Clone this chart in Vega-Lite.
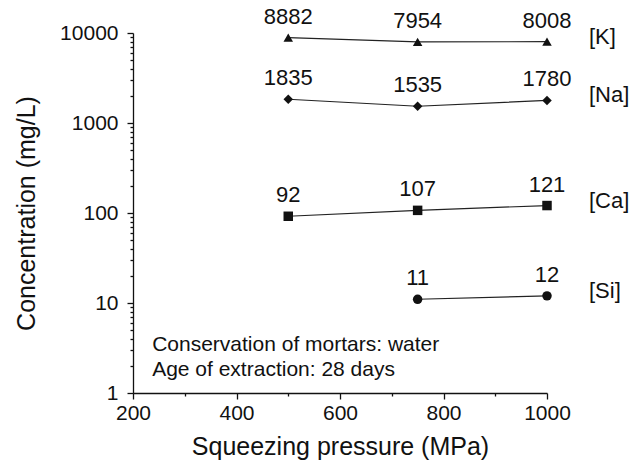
{
  "$schema": "https://vega.github.io/schema/vega-lite/v6.json",
  "width": 414,
  "height": 360,
  "autosize": {"type": "none"},
  "padding": {"left": 133, "top": 33, "right": 87, "bottom": 73},
  "background": "white",
  "config": {
    "font": "Liberation Sans",
    "view": {"stroke": null},
    "axis": {
      "grid": false,
      "domainColor": "#111",
      "tickColor": "#111",
      "labelColor": "#111",
      "titleColor": "#111",
      "domainWidth": 1.3,
      "tickWidth": 1.3,
      "labelFontSize": 21,
      "titleFontSize": 25,
      "titleFontWeight": "normal",
      "labelOverlap": false,
      "labelFlush": false
    }
  },
  "datasets": {
    "ions": [
      {"ion": "[K]", "pressure": 500, "conc": 8882},
      {"ion": "[K]", "pressure": 750, "conc": 7954},
      {"ion": "[K]", "pressure": 1000, "conc": 8008},
      {"ion": "[Na]", "pressure": 500, "conc": 1835},
      {"ion": "[Na]", "pressure": 750, "conc": 1535},
      {"ion": "[Na]", "pressure": 1000, "conc": 1780},
      {"ion": "[Ca]", "pressure": 500, "conc": 92},
      {"ion": "[Ca]", "pressure": 750, "conc": 107},
      {"ion": "[Ca]", "pressure": 1000, "conc": 121},
      {"ion": "[Si]", "pressure": 750, "conc": 11},
      {"ion": "[Si]", "pressure": 1000, "conc": 12}
    ],
    "note1": [{"note": "Conservation of mortars: water"}],
    "note2": [{"note": "Age of extraction: 28 days"}]
  },
  "layer": [
    {
      "data": {"name": "ions"},
      "mark": {"type": "line", "color": "#222", "strokeWidth": 1.2},
      "encoding": {
        "x": {
          "field": "pressure",
          "type": "quantitative",
          "scale": {"domain": [200, 1000], "nice": false, "zero": false},
          "axis": {
            "title": "Squeezing pressure (MPa)",
            "values": [200, 250, 300, 350, 400, 450, 500, 550, 600, 650, 700, 750, 800, 850, 900, 950, 1000],
            "labelExpr": "datum.value % 200 === 0 ? datum.label : ''",
            "format": "d",
            "tickSize": {"condition": {"test": "datum.value % 200 === 0", "value": 6}, "value": 3},
            "labelPadding": 3,
            "titlePadding": 11
          }
        },
        "y": {
          "field": "conc",
          "type": "quantitative",
          "scale": {"type": "log", "domain": [1, 10000], "nice": false},
          "axis": {
            "title": "Concentration (mg/L)",
            "values": [1, 2, 3, 4, 5, 6, 7, 8, 9, 10, 20, 30, 40, 50, 60, 70, 80, 90, 100, 200, 300, 400, 500, 600, 700, 800, 900, 1000, 2000, 3000, 4000, 5000, 6000, 7000, 8000, 9000, 10000],
            "labelExpr": "indexof([1,10,100,1000,10000], datum.value) >= 0 ? datum.label : ''",
            "format": "d",
            "tickSize": {"condition": {"test": "indexof([1,10,100,1000,10000], datum.value) >= 0", "value": 6}, "value": 3},
            "labelPadding": 9,
            "titlePadding": 20
          }
        },
        "detail": {"field": "ion"}
      }
    },
    {
      "data": {"name": "ions"},
      "mark": {"type": "point", "filled": true, "opacity": 1, "color": "#111"},
      "encoding": {
        "x": {"field": "pressure", "type": "quantitative"},
        "y": {"field": "conc", "type": "quantitative"},
        "shape": {
          "field": "ion",
          "type": "nominal",
          "scale": {"domain": ["[K]", "[Na]", "[Ca]", "[Si]"], "range": ["triangle-up", "diamond", "square", "circle"]},
          "legend": null
        },
        "size": {
          "field": "ion",
          "type": "nominal",
          "scale": {"domain": ["[K]", "[Na]", "[Ca]", "[Si]"], "range": [90, 90, 85, 75]},
          "legend": null
        }
      }
    },
    {
      "data": {"name": "ions"},
      "mark": {"type": "text", "dy": -21, "fontSize": 22, "color": "#111"},
      "encoding": {
        "x": {"field": "pressure", "type": "quantitative"},
        "y": {"field": "conc", "type": "quantitative"},
        "text": {"field": "conc", "type": "quantitative", "format": "d"}
      }
    },
    {
      "data": {"name": "ions"},
      "transform": [{"filter": "datum.pressure === 1000"}],
      "mark": {"type": "text", "align": "left", "dx": 42, "dy": -5, "fontSize": 22, "color": "#111"},
      "encoding": {
        "x": {"field": "pressure", "type": "quantitative"},
        "y": {"field": "conc", "type": "quantitative"},
        "text": {"field": "ion", "type": "nominal"}
      }
    },
    {
      "data": {"name": "note1"},
      "mark": {"type": "text", "align": "left", "baseline": "middle", "fontSize": 21, "color": "#111"},
      "encoding": {
        "x": {"datum": 237, "type": "quantitative"},
        "y": {"datum": 3.4, "type": "quantitative"},
        "text": {"field": "note", "type": "nominal"}
      }
    },
    {
      "data": {"name": "note2"},
      "mark": {"type": "text", "align": "left", "baseline": "middle", "fontSize": 21, "color": "#111"},
      "encoding": {
        "x": {"datum": 237, "type": "quantitative"},
        "y": {"datum": 1.8, "type": "quantitative"},
        "text": {"field": "note", "type": "nominal"}
      }
    }
  ]
}
